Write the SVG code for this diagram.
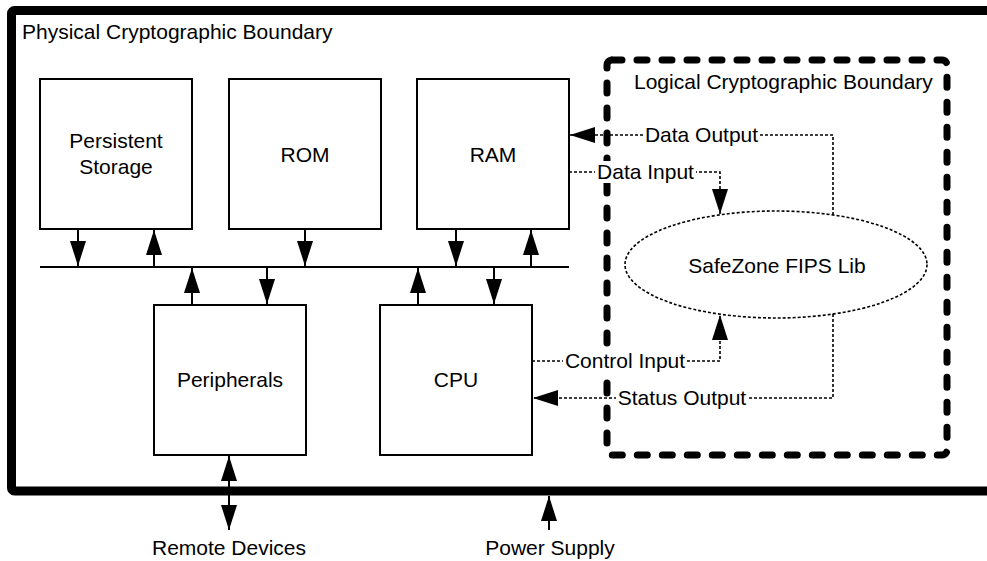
<svg xmlns="http://www.w3.org/2000/svg" width="987" height="561" viewBox="0 0 987 561">
<style>
text{font-family:"Liberation Sans",Arial,sans-serif;font-size:21px;fill:#000}
.c{text-anchor:middle}
.box{fill:#fff;stroke:#000;stroke-width:2}
.sol{fill:none;stroke:#000;stroke-width:2}
.dot{fill:none;stroke:#000;stroke-width:1.6;stroke-dasharray:3 2}
.lbg{fill:#fff;stroke:none}
</style>
<defs>
<marker id="ah" markerUnits="userSpaceOnUse" markerWidth="26" markerHeight="16" refX="25" refY="8" orient="auto-start-reverse" viewBox="0 0 26 16">
<path d="M0,0 L25,8 L0,16 z" fill="#000"/>
</marker>
</defs>
<rect width="987" height="561" fill="#fff"/>
<g id="physical-boundary">
<rect x="11.5" y="10.5" width="990" height="480.5" rx="3" fill="none" stroke="#000" stroke-width="9"/>
<text x="22" y="39">Physical Cryptographic Boundary</text>
</g>
<g id="logical-boundary">
<rect x="607" y="60" width="340" height="395" rx="5" fill="none" stroke="#000" stroke-width="7" stroke-linecap="round" stroke-dasharray="10 15"/>
<text x="634" y="89">Logical Cryptographic Boundary</text>
</g>
<g id="persistent-storage">
<rect class="box" x="40" y="79" width="152" height="150"/>
<text class="c" x="116" y="148">Persistent</text>
<text class="c" x="116" y="174">Storage</text>
</g>
<g id="rom">
<rect class="box" x="229" y="79" width="152" height="150"/>
<text class="c" x="305" y="162">ROM</text>
</g>
<g id="ram">
<rect class="box" x="417" y="79" width="152" height="150"/>
<text class="c" x="493" y="162">RAM</text>
</g>
<g id="peripherals">
<rect class="box" x="154" y="305" width="152" height="150"/>
<text class="c" x="230" y="387">Peripherals</text>
</g>
<g id="cpu">
<rect class="box" x="380" y="305" width="152" height="150"/>
<text class="c" x="456" y="387">CPU</text>
</g>
<g id="safezone">
<ellipse cx="776" cy="264.5" rx="151" ry="53.5" fill="none" stroke="#000" stroke-width="1.6" stroke-dasharray="3 2"/>
<text class="c" x="777" y="273">SafeZone FIPS Lib</text>
</g>
<g id="connectors">
<line class="sol" x1="40" y1="267" x2="569" y2="267"/>
<line class="sol" x1="78" y1="229" x2="78" y2="266" marker-end="url(#ah)"/>
<line class="sol" x1="154" y1="267" x2="154" y2="230" marker-end="url(#ah)"/>
<line class="sol" x1="305" y1="229" x2="305" y2="266" marker-end="url(#ah)"/>
<line class="sol" x1="456" y1="229" x2="456" y2="266" marker-end="url(#ah)"/>
<line class="sol" x1="531" y1="267" x2="531" y2="230" marker-end="url(#ah)"/>
<line class="sol" x1="192" y1="305" x2="192" y2="268" marker-end="url(#ah)"/>
<line class="sol" x1="267" y1="267" x2="267" y2="304" marker-end="url(#ah)"/>
<line class="sol" x1="418" y1="305" x2="418" y2="268" marker-end="url(#ah)"/>
<line class="sol" x1="494" y1="267" x2="494" y2="304" marker-end="url(#ah)"/>
<line class="sol" x1="229" y1="456" x2="229" y2="530" marker-start="url(#ah)" marker-end="url(#ah)"/>
<line class="sol" x1="549" y1="530" x2="549" y2="496" marker-end="url(#ah)"/>
<path class="dot" d="M833,215 V135 H570" marker-end="url(#ah)"/>
<path class="dot" d="M569,172 H720 V214" marker-end="url(#ah)"/>
<path class="dot" d="M532,361 H720 V315" marker-end="url(#ah)"/>
<path class="dot" d="M833,314 V398 H533" marker-end="url(#ah)"/>
<rect class="lbg" x="643" y="124" width="117" height="22"/>
<text class="c" x="701.5" y="142">Data Output</text>
<rect class="lbg" x="595" y="161" width="101" height="22"/>
<text class="c" x="645.5" y="179">Data Input</text>
<rect class="lbg" x="563" y="350" width="124" height="22"/>
<text class="c" x="625" y="368">Control Input</text>
<rect class="lbg" x="616" y="387" width="132" height="22"/>
<text class="c" x="682" y="405">Status Output</text>
</g>
<text class="c" x="229" y="555">Remote Devices</text>
<text class="c" x="550" y="555">Power Supply</text>
</svg>
